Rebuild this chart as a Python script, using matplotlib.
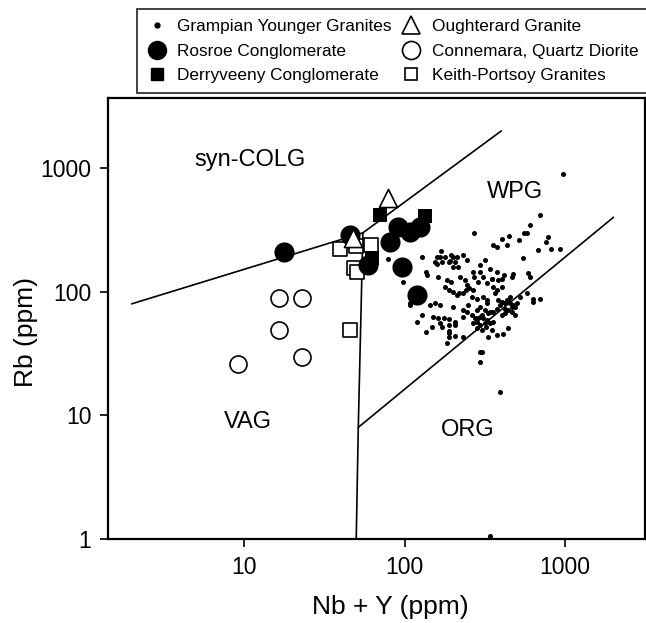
import numpy as np
import matplotlib
matplotlib.use("Agg")
import matplotlib.pyplot as plt
from matplotlib.lines import Line2D

plt.rcParams['font.family'] = ['Liberation Sans', 'DejaVu Sans']

# Grampian Younger Granites (Nb+Y, Rb) in ppm
gyg_x = [967, 699, 605, 555, 583, 272, 403, 450, 520, 788, 760, 682, 815, 936,
         357, 375, 433, 169, 159, 166, 179, 196, 201, 192, 206, 216, 199, 230,
         244, 159, 315, 295, 341, 550, 128, 79, 137, 138, 268, 270, 310, 352,
         384, 417, 477, 590, 605, 238, 244, 252, 288, 325, 357, 375, 403, 98,
         179, 188, 201, 211, 220, 232, 240, 268, 128, 310, 325, 384, 403, 433,
         454, 477, 525, 577, 635, 699, 108, 144, 155, 166, 250, 232, 295, 325,
         317, 341, 375, 423, 443, 465, 488, 151, 162, 175, 188, 206, 206, 232,
         274, 295, 310, 325, 281, 295, 317, 341, 357, 403, 423, 488, 119, 137,
         148, 171, 188, 206, 188, 183, 268, 281, 302, 320, 349, 232, 333, 375,
         413, 443, 302, 295, 394, 288, 302, 333, 357, 394, 423, 443, 454, 465,
         500, 281, 262, 244, 201, 162, 183, 196, 222, 295, 375, 403, 262, 281,
         366, 171, 155, 188, 211, 128, 166, 188, 188, 295, 465, 635, 349, 108,
         340]
gyg_y = [906, 417, 345, 297, 297, 297, 270, 282, 265, 279, 254, 217, 221, 221,
         238, 231, 241, 214, 192, 190, 192, 198, 192, 178, 175, 159, 159, 198,
         182, 169, 182, 164, 154, 188, 192, 186, 145, 137, 145, 132, 132, 128,
         124, 137, 139, 141, 132, 124, 113, 108, 120, 117, 110, 104, 110, 120,
         110, 103, 100, 94, 97, 97, 103, 103, 91, 91, 86, 86, 83, 86,
         80.5, 78, 91, 97, 83, 87, 78, 78, 80.5, 78, 78, 71, 76, 80.5,
         71, 69, 73, 73, 71, 69, 76, 63, 61, 61, 60, 57, 54, 63,
         61, 63, 61, 59, 57, 54, 55.5, 55.5, 57, 65, 68, 65, 57, 47.5,
         52, 52, 48.4, 43.8, 42.8, 38.2, 55.5, 50.5, 49, 51.5, 49.5, 43.3, 43.3, 44.6,
         45.5, 51.3, 32.8, 27.2, 15.4, 61, 65, 67, 69, 78, 80.5, 86, 91, 76,
         80.5, 71, 65, 69, 76, 132, 124, 120, 132, 145, 145, 128, 91, 88,
         97, 175, 175, 175, 192, 65, 55.5, 54, 46, 32.8, 132, 87, 128, 80.5,
         1.05]

rosroe_x = [17.7, 45.7, 59.3, 81.3, 91.2, 108, 125, 96.4, 120]
rosroe_y = [209, 287, 164, 252, 334, 304, 334, 158, 94]

derry_x = [70.3, 134, 62.8]
derry_y = [417, 410, 187]

ough_x = [78.9, 47.8]
ough_y = [571, 272]

conn_x = [16.5, 23.0, 16.5, 23.0, 9.2]
conn_y = [89, 89, 49, 29.6, 26]

keith_x = [39.6, 49.9, 61.8, 48.4, 50.6, 45.7]
keith_y = [221, 234, 238, 156, 144, 49]

# Pearce et al. (1984) field boundaries
syncolg_vag_x = [2, 55]
syncolg_vag_y = [80, 300]
syncolg_wpg_x = [55, 400]
syncolg_wpg_y = [300, 2000]
vag_wpg_x = [55, 51.5, 50]
vag_wpg_y = [300, 8, 1]
org_wpg_x = [51.5, 2000]
org_wpg_y = [8, 400]

fields = ['syn-COLG', 'WPG', 'VAG', 'ORG']
field_x = [10.9, 488, 10.6, 249]
field_y = [1160, 640, 8.9, 7.6]

fig = plt.figure(figsize=(6.46, 6.23), dpi=100)
ax = fig.add_axes([108/646, 84/623, 537/646, 441/623])
ax.set_xscale('log')
ax.set_yscale('log')
ax.set_xlim(1.42, 3150)
ax.set_ylim(1, 3700)

lw = 1.2
for xs, ys in [(syncolg_vag_x, syncolg_vag_y), (syncolg_wpg_x, syncolg_wpg_y),
               (vag_wpg_x, vag_wpg_y), (org_wpg_x, org_wpg_y)]:
    ax.plot(xs, ys, color='black', lw=lw, zorder=2)

ax.scatter(gyg_x, gyg_y, s=13, color='black', lw=0, zorder=3)
ax.scatter(keith_x, keith_y, s=100, marker='s', facecolor='white',
           edgecolor='black', lw=1.2, zorder=4)
ax.scatter(rosroe_x, rosroe_y, s=210, marker='o', color='black', lw=0, zorder=5)
ax.scatter(derry_x, derry_y, s=100, marker='s', color='black', lw=0, zorder=5)
ax.scatter(conn_x, conn_y, s=150, marker='o', facecolor='white',
           edgecolor='black', lw=1.2, zorder=6)
ax.scatter(ough_x, ough_y, s=170, marker='^', facecolor='white',
           edgecolor='black', lw=1.2, zorder=7)

for name, fx, fy in zip(fields, field_x, field_y):
    ax.text(fx, fy, name, fontsize=17, ha='center', va='center')

ax.set_xticks([10, 100, 1000])
ax.set_xticklabels(['10', '100', '1000'])
ax.set_yticks([1, 10, 100, 1000])
ax.set_yticklabels(['1', '10', '100', '1000'])
ax.minorticks_off()
ax.tick_params(direction='out', length=6, width=1.2, labelsize=16.5, pad=6)
for sp in ax.spines.values():
    sp.set_linewidth(1.6)

ax.set_xlabel('Nb + Y (ppm)', fontsize=19)
ax.set_ylabel('Rb (ppm)', fontsize=19)
ax.xaxis.set_label_coords(0.525, -0.128)
ax.yaxis.set_label_coords(-0.13, 0.47)

handles = [
    Line2D([], [], ls='none', marker='o', ms=3.5, color='black'),
    Line2D([], [], ls='none', marker='o', ms=13, color='black'),
    Line2D([], [], ls='none', marker='s', ms=9, color='black'),
    Line2D([], [], ls='none', marker='^', ms=13, mfc='white', mec='black', mew=1.2),
    Line2D([], [], ls='none', marker='o', ms=13, mfc='white', mec='black', mew=1.2),
    Line2D([], [], ls='none', marker='s', ms=9, mfc='white', mec='black', mew=1.2),
]
labels = ['Grampian Younger Granites', 'Rosroe Conglomerate',
          'Derryveeny Conglomerate', 'Oughterard Granite',
          'Connemara, Quartz Diorite', 'Keith-Portsoy Granites']
leg = fig.legend(handles, labels, ncol=2, loc='upper left',
                 bbox_to_anchor=(137/646, 1 - 9.5/623), borderaxespad=0,
                 fontsize=12.4, frameon=True, fancybox=False, edgecolor='black',
                 handlelength=1.2, handletextpad=0.6, columnspacing=0.5,
                 labelspacing=0.55, borderpad=0.55)
leg.get_frame().set_linewidth(1.3)

fig.savefig('out.png', dpi=100)
